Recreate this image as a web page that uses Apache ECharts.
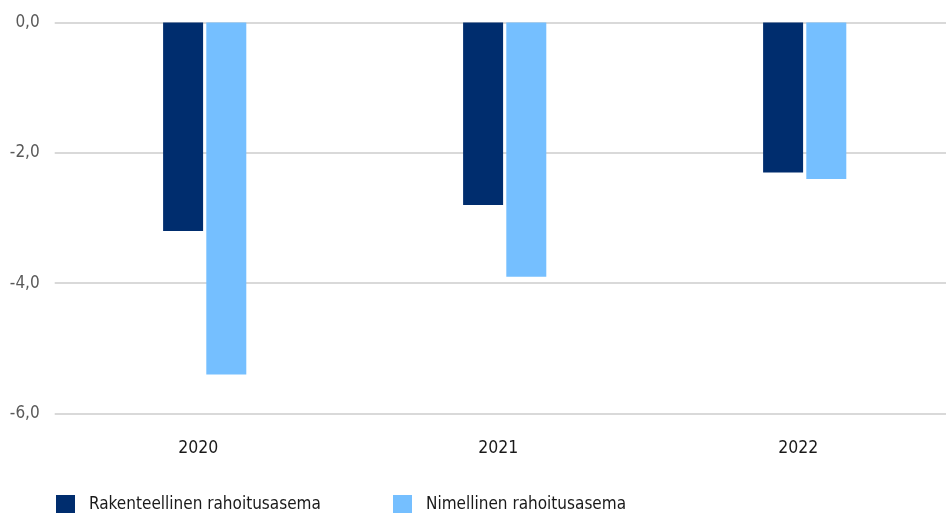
<!DOCTYPE html>
<html><head><meta charset="utf-8">
<script src="https://cdn.jsdelivr.net/npm/echarts@6/dist/echarts.min.js"></script>
<style>html,body{margin:0;padding:0;background:#fff}#c{width:946px;height:513px}</style>
</head><body><div id="c"></div>
<script>
const categories = ['2020', '2021', '2022'];
const rakenteellinen = [-3.2, -2.8, -2.3];
const nimellinen = [-5.4, -3.9, -2.4];
const seriesNames = ['Rakenteellinen rahoitusasema', 'Nimellinen rahoitusasema'];
const FONT = '"DejaVu Sans Condensed", "Liberation Sans Narrow", "Noto Sans", sans-serif';
const chart = echarts.init(document.getElementById('c'), null, {renderer: 'canvas'});
const legendCommon = {
  top: 495, padding: 0, itemWidth: 19, itemHeight: 19, icon: 'rect',
  textStyle: {fontFamily: FONT, fontSize: 17, color: '#1a1a1a', padding: [0, 0, 0, 9]}
};
chart.setOption({
  animation: false,
  textStyle: {fontFamily: FONT},
  grid: {left: 54.7, width: 900, top: 22.5, bottom: 99.5, containLabel: false, outerBoundsMode: 'none'},
  legend: [
    Object.assign({left: 56, data: [seriesNames[0]]}, legendCommon),
    Object.assign({left: 393, data: [seriesNames[1]]}, legendCommon)
  ],
  xAxis: {
    type: 'category', data: categories, position: 'bottom',
    axisLine: {show: false}, axisTick: {show: false},
    axisLabel: {fontFamily: FONT, fontSize: 17.5, color: '#1a1a1a', margin: 26, padding: [0, 13, 0, 0]}
  },
  yAxis: {
    type: 'value', min: -6, max: 0, interval: 2,
    axisLabel: {fontFamily: FONT, fontSize: 17, color: '#595959', margin: 15,
      formatter: v => v.toFixed(1).replace('.', ',')},
    splitLine: {lineStyle: {color: '#d9d9d9', width: 2}},
    axisLine: {show: false}, axisTick: {show: false}
  },
  series: [
    {name: seriesNames[0], type: 'bar', data: rakenteellinen, barWidth: 40, barGap: '8%',
     itemStyle: {color: '#002D6E'}},
    {name: seriesNames[1], type: 'bar', data: nimellinen, barWidth: 40,
     itemStyle: {color: '#75BFFF'}}
  ]
});
</script></body></html>
